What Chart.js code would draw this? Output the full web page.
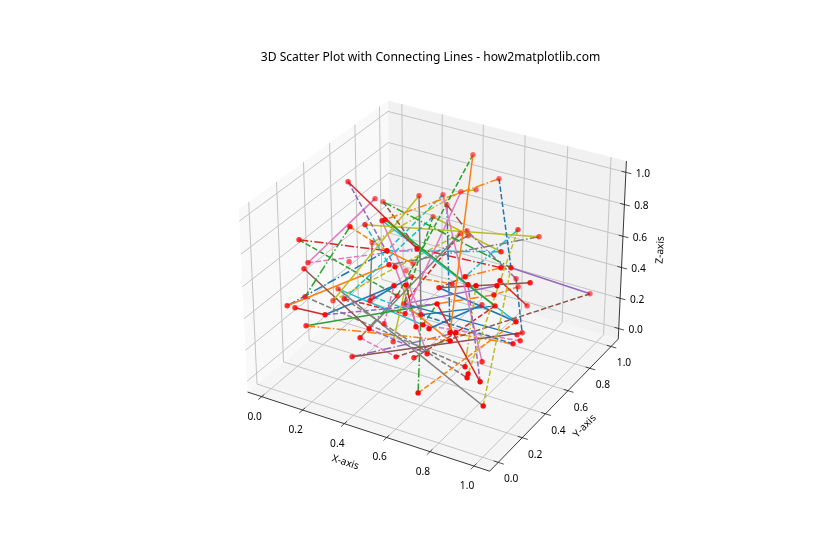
<!DOCTYPE html>
<html>
<head>
<meta charset="utf-8">
<title>3D Scatter Plot with Connecting Lines</title>
<script src="https://cdn.jsdelivr.net/npm/chart.js@4/dist/chart.umd.min.js"></script>
<style>
  html, body { margin: 0; padding: 0; background: #fff; }
  canvas { display: block; }
</style>
</head>
<body>
<canvas id="myChart" width="840" height="560"></canvas>
<script>
// values, one entry per red marker
const pointX = [.088,.157,.145,.312,.342,.346,.315,.231,.237,.020,.029,.067,.148,.428,.530,.129,.406,.450,.319,.422,.542,.470,.417,.355,.338,.742,.786,.480,.458,.489,.744,.799,.834,.045,.075,.053,.233,.132,.118,.112,.239,.332,.208,.444,.378,.362,.413,.326,.523,.545,.628,.677,.487,.528,.380,.370,.511,.654,.526,.604,.626,.651,.368,.724,.848,.747,.916,.603,.604,.782,.810,.882,.763,.993,.802,.815,.817,.691,.944,.885,.863,.902,.918,.788,.768,.776,.789,.813,.831,.831,.880,.915,.301];
const pointY = [.488,.585,.668,.682,.746,.353,.381,.270,.375,.214,.261,.173,.571,.231,.295,.418,.282,.255,.619,.942,.953,.885,.850,.807,.870,.752,.857,.792,.772,.785,.604,.503,.523,.074,.086,.195,.066,.077,.346,.314,.202,.251,.475,.061,.097,.309,.296,.116,.136,.240,.204,.048,.185,.210,.386,.456,.229,.239,.330,.158,.175,.180,.519,.342,.405,.734,.535,.343,.448,.262,.276,.317,.724,.935,.441,.708,.424,.544,.366,.490,.577,.486,.394,.156,.144,.131,.372,.187,.180,.172,.191,.155,.591];
const pointZ = [.951,.811,.736,.825,.663,.893,.858,.861,.809,.738,.567,.602,.537,.812,.821,.509,.684,.706,.436,.963,.847,.794,.784,.770,.661,.724,.628,.595,.581,.571,.682,.670,.670,.428,.419,.406,.452,.334,.379,.322,.461,.452,.276,.453,.345,.278,.192,.189,.256,.184,.270,.158,.651,.655,.410,.307,.456,.568,.386,.462,.471,.453,.437,.692,.674,.427,.600,.577,.531,.719,.715,.715,.389,.291,.544,.298,.493,.368,.485,.292,.235,.264,.317,.501,.501,.464,.165,.278,.246,.227,.209,.098,.402];

// which markers each line joins, its colour index and its line style index
const segFrom  = [19,19,20,20,5,0,0,1,2,2,3,3,4,4,7,13,7,8,8,26,25,25,91,91,57,90,23,22,73,73,66,75,27,65,78,51,6,76,77,79,41,47,11,36,34,33,33,9,9,10,35,40,37,37,43,43,44,44,47,46,55,17,45,6,82,82,81,24,24,21,22,23,30,30,31,31,63,71,74,70,28,28,38,40,62,67,58,53,29,60,49,42,52,72,12];
const segTo    = [84,54,32,5,76,14,17,10,32,14,39,58,40,55,13,18,35,16,26,16,63,88,32,38,90,69,86,56,48,32,67,64,65,80,51,58,78,83,61,55,62,80,43,57,36,16,13,54,13,14,87,89,85,57,28,50,48,54,83,53,85,50,52,58,58,84,60,84,27,22,12,13,13,4,14,63,67,55,57,87,55,39,60,56,68,78,76,59,18,57,83,58,36,74,41];
const segColor = [1,2,0,1,2,3,4,6,2,5,8,7,9,2,1,1,2,9,8,7,9,8,8,7,3,4,6,6,5,4,5,3,4,0,1,2,9,3,0,0,0,5,5,4,3,1,0,2,3,6,7,7,1,2,7,4,6,7,4,8,1,6,6,6,0,1,6,0,5,8,8,9,9,8,3,1,5,4,1,8,3,8,9,3,1,0,0,3,7,2,5,9,0,1,7];
const segStyle = [0,1,1,2,0,0,1,0,2,1,0,0,1,1,1,0,2,1,0,2,2,1,1,0,0,1,0,0,1,0,0,0,2,1,1,2,0,1,0,0,0,0,0,1,0,0,2,1,2,1,1,1,2,0,0,1,1,2,2,0,0,0,1,0,1,2,1,2,2,2,2,1,2,0,2,2,1,0,2,2,1,1,0,1,1,0,0,0,2,1,1,1,0,1,0];

const tickValues = [0, 0.2, 0.4, 0.6, 0.8, 1];
const tickLabels = ['0.0', '0.2', '0.4', '0.6', '0.8', '1.0'];
const axisLow = -0.07;
const axisHigh = 1.07;

const lineColors = ['#1f77b4','#ff7f0e','#2ca02c','#d62728','#9467bd','#8c564b','#e377c2','#7f7f7f','#bcbd22','#17becf'];
const lineDashes = [[], [5.4, 2.3], [9.3, 2.3, 1.5, 2.3]];
const fontName = '"Noto Sans", sans-serif';

// same camera as a default mplot3d axes: elev 30, azim -60, box 4:4:3, distance 10
const boxX = 1.1905, boxY = 1.1905, boxZ = 0.8929;
function offsets(x, y, z) {
  const range = axisHigh - axisLow;
  return [((x - axisLow) / range - 0.5) * boxX,
          ((y - axisLow) / range - 0.5) * boxY,
          ((z - axisLow) / range - 0.5) * boxZ];
}
function depthOf(x, y, z) {
  const d = offsets(x, y, z);
  return 0.433 * d[0] - 0.75 * d[1] + 0.5 * d[2];
}
function proj(x, y, z) {
  const d = offsets(x, y, z);
  const dist = 10 - depthOf(x, y, z);
  return {
    x: (0.866 * d[0] + 0.5 * d[1]) / dist,
    y: (-0.25 * d[0] + 0.433 * d[1] + 0.866 * d[2]) / dist
  };
}

const lo = axisLow, hi = axisHigh;
const datasets = [];

function addLine(data, color, width, dash, order) {
  datasets.push({
    data: data, showLine: true, borderColor: color, borderWidth: width,
    borderDash: dash, pointRadius: 0, order: order, clip: false
  });
}
function addPane(corners, color) {
  datasets.push({
    data: corners.map(c => proj(c[0], c[1], c[2])),
    showLine: true, fill: 'shape', backgroundColor: color,
    borderWidth: 0, pointRadius: 0, order: 5, clip: false
  });
}

addPane([[lo,lo,lo],[lo,hi,lo],[lo,hi,hi],[lo,lo,hi]], '#f9f9f9');
addPane([[lo,hi,lo],[hi,hi,lo],[hi,hi,hi],[lo,hi,hi]], '#f1f1f1');
addPane([[lo,lo,lo],[hi,lo,lo],[hi,hi,lo],[lo,hi,lo]], '#f5f5f5');

const gridColor = '#c4c4c4';
tickValues.forEach(v => {
  addLine([proj(v,lo,lo), proj(v,hi,lo), proj(v,hi,hi)], gridColor, 1, [], 4);
  addLine([proj(hi,v,lo), proj(lo,v,lo), proj(lo,v,hi)], gridColor, 1, [], 4);
  addLine([proj(lo,lo,v), proj(lo,hi,v), proj(hi,hi,v)], gridColor, 1, [], 4);
  // tick marks
  addLine([proj(v,lo-0.025,lo), proj(v,lo+0.02,lo)], '#222', 0.8, [], 3);
  addLine([proj(hi-0.02,v,lo), proj(hi+0.025,v,lo)], '#222', 0.8, [], 3);
  addLine([proj(hi-0.02,hi,v), proj(hi+0.025,hi,v)], '#222', 0.8, [], 3);
});
addLine([proj(lo,lo,lo), proj(hi,lo,lo), proj(hi,hi,lo), proj(hi,hi,hi)], '#222', 0.9, [], 3);

segFrom.forEach((a, i) => {
  const b = segTo[i];
  addLine([proj(pointX[a],pointY[a],pointZ[a]), proj(pointX[b],pointY[b],pointZ[b])],
          lineColors[segColor[i]], 1.5, lineDashes[segStyle[i]], 2);
});

// markers fade with distance, like depthshade
const markerColors = pointX.map((x, i) => {
  const alpha = Math.min(1, Math.max(0.45, 0.72 + 0.8 * depthOf(x, pointY[i], pointZ[i])));
  return 'rgba(255,0,0,' + alpha.toFixed(2) + ')';
});
datasets.push({
  data: pointX.map((x, i) => proj(x, pointY[i], pointZ[i])),
  showLine: false, pointRadius: 2.7, pointBorderWidth: 0,
  pointBackgroundColor: markerColors, order: 1, clip: false
});

const axisLabels = {
  id: 'axisLabels',
  afterDraw(chart) {
    const {ctx, scales} = chart;
    const put = (p, dx, dy, text, font, angle) => {
      ctx.save();
      ctx.translate(scales.x.getPixelForValue(p.x) + dx, scales.y.getPixelForValue(p.y) + dy);
      ctx.rotate((angle || 0) * Math.PI / 180);
      ctx.font = font;
      ctx.fillStyle = '#000';
      ctx.textAlign = 'center';
      ctx.textBaseline = 'middle';
      ctx.fillText(text, 0, 0);
      ctx.restore();
    };
    const tickFont = '10.2px ' + fontName;
    tickValues.forEach((v, i) => {
      put(proj(v, lo, lo), -7, 20, tickLabels[i], tickFont);
      put(proj(hi, v, lo), 13, 17, tickLabels[i], tickFont);
      put(proj(hi, hi, v), 17, 2, tickLabels[i], tickFont);
    });
    const mid = (lo + hi) / 2;
    put(proj(mid, lo, lo), -20, 32, 'X-axis', tickFont, 18);
    put(proj(hi, mid, lo), 28, 24, 'Y-axis', tickFont, -46);
    put(proj(hi, hi, mid), 38, -2, 'Z-axis', tickFont, -87);
  }
};

const config = {
  type: 'scatter',
  data: { datasets: datasets },
  options: {
    responsive: false,
    animation: false,
    layout: { padding: { left: 215, right: 194, top: 40, bottom: 61.6 } },
    scales: {
      x: { type: 'linear', display: false, min: -0.095, max: 0.09 },
      y: { type: 'linear', display: false, min: -0.095, max: 0.09 }
    },
    plugins: {
      legend: { display: false },
      tooltip: { enabled: false },
      title: {
        display: true,
        text: '3D Scatter Plot with Connecting Lines - how2matplotlib.com',
        color: '#000',
        font: { family: fontName, size: 12.1, weight: 'normal' },
        padding: { top: 10.6, bottom: 1.9 }
      }
    }
  },
  plugins: [axisLabels]
};

const myChart = new Chart(document.getElementById('myChart'), config);
</script>
</body>
</html>
